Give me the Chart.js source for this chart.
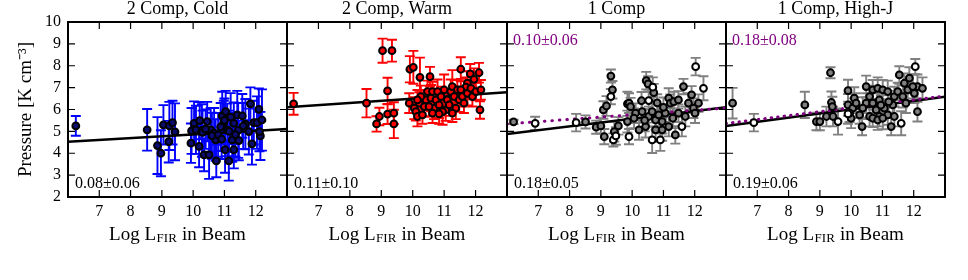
<!DOCTYPE html>
<html>
<head>
<meta charset="utf-8">
<script src="https://cdn.jsdelivr.net/npm/chart.js@4.4.1/dist/chart.umd.min.js"></script>
<style>
  body { margin: 0; background: #fff; }
  #wrap { position: relative; width: 968px; height: 280px; overflow: hidden; }
  #wrap canvas { position: absolute; top: 0; }
</style>
</head>
<body>
<div id="wrap"></div>
<script>
// ---- data ----
const xTicks = [7, 8, 9, 10, 11, 12];
const yTicks = [2, 3, 4, 5, 6, 7, 8, 9, 10];
const titles = ['2 Comp, Cold', '2 Comp, Warm', '1 Comp', '1 Comp, High-J'];
const slopeText = ['0.08\u00b10.06', '0.11\u00b10.10', '0.18\u00b10.05', '0.19\u00b10.06'];
const slopeTextB = [null, null, '0.10\u00b10.06', '0.18\u00b10.08'];

// 2 Comp, Cold
const coldX = [6.25, 8.53, 8.86, 8.97, 9.05, 9.22, 9.24, 9.34, 9.42, 9.95, 9.93, 10.03, 10.09, 10.21, 10.19, 10.28, 10.35, 10.45, 10.51,
  10.56, 10.67, 10.72, 10.74, 10.80, 10.93, 10.91, 10.98, 11.04, 11.02, 11.09, 11.14, 11.20, 11.25, 11.30, 11.30, 11.41, 11.44, 11.46, 11.57,
  11.67, 11.78, 11.83, 11.88, 11.94, 12.04, 12.10, 12.15, 12.20, 12.12, 10.30, 10.60, 10.88, 11.15, 11.35, 11.60, 10.40, 11.00];
const coldY = [5.25, 5.07, 4.35, 4.00, 5.30, 4.53, 5.25, 5.40, 4.98, 5.02, 4.46, 5.37, 5.07, 5.49, 4.31, 5.04, 3.93, 5.45, 3.93,
  5.07, 4.92, 4.61, 3.65, 4.84, 5.71, 4.64, 5.40, 5.90, 4.16, 5.07, 3.65, 5.65, 4.61, 5.37, 4.16, 5.75, 5.04, 4.58, 5.71,
  5.33, 4.99, 6.26, 4.43, 5.40, 5.40, 6.01, 4.79, 5.52, 4.99, 4.95, 4.80, 5.20, 5.00, 4.85, 5.25, 5.10, 5.50];
const coldErr = [0.45, 0.95, 1.30, 1.05, 0.90, 0.95, 1.10, 1.00, 1.30, 1.05, 0.90, 1.00, 1.10, 0.85, 0.95, 1.20, 0.75, 0.90, 1.10,
  1.00, 1.15, 0.95, 0.75, 1.00, 1.10, 0.90, 1.00, 0.95, 1.05, 1.20, 0.90, 1.10, 1.00, 0.95, 0.85, 1.10, 1.25, 0.90, 1.00,
  1.15, 1.05, 0.75, 0.95, 1.00, 1.20, 0.95, 1.10, 1.40, 0.90, 1.00, 1.05, 1.10, 0.95, 1.00, 1.05, 0.90, 1.00];

// 2 Comp, Warm
const warmX = [6.21, 8.53, 8.85, 8.94, 9.04, 9.20, 9.20, 9.34, 9.40, 9.40, 9.91, 10.02, 10.23, 10.55, 11.53, 11.83, 11.95, 12.11, 11.74, 11.69,
  12.14, 9.89, 10.05, 10.10, 10.15, 10.31, 10.21, 10.37, 10.42, 10.47, 10.58, 10.63, 10.68, 10.74, 10.79, 10.84, 10.90, 11.00, 11.05, 11.10,
  11.16, 11.21, 11.26, 11.32, 11.37, 11.42, 11.48, 11.53, 11.58, 11.63, 11.74, 11.85, 11.90, 12.01, 12.17, 10.26, 10.52, 10.95, 10.63, 10.15,
  11.26, 10.84];
const warmY = [6.26, 6.29, 5.34, 5.68, 8.69, 5.79, 6.85, 8.69, 5.83, 5.34, 7.84, 7.93, 7.47, 7.50, 7.84, 7.63, 7.38, 7.68, 7.20, 7.02,
  5.98, 6.29, 6.06, 5.90, 5.68, 5.75, 6.29, 6.13, 6.44, 6.82, 6.52, 6.82, 6.06, 6.44, 6.82, 6.21, 6.59, 6.90, 5.98, 6.44,
  6.21, 6.82, 7.05, 6.59, 6.06, 6.90, 6.44, 6.90, 6.59, 6.29, 6.74, 6.97, 6.59, 6.82, 6.90, 6.59, 6.13, 5.90, 5.83, 6.44,
  5.83, 5.80];
const warmErr = [0.50, 0.65, 0.35, 0.40, 0.55, 0.45, 0.60, 0.50, 0.50, 0.65, 0.60, 0.75, 0.90, 0.45, 0.55, 0.45, 0.50, 0.45, 0.55, 0.45,
  0.40, 0.45, 0.50, 0.40, 0.45, 0.40, 0.50, 0.45, 0.45, 0.50, 0.60, 0.45, 0.50, 0.45, 0.55, 0.60, 0.45, 0.70, 0.50, 0.45,
  0.50, 0.55, 0.75, 0.45, 0.50, 0.45, 0.55, 0.50, 0.45, 0.45, 0.55, 0.50, 0.45, 0.40, 0.45, 0.50, 0.45, 0.60, 0.45, 0.45,
  0.40, 0.45];

// 1 Comp (grey filled and open markers)
const oneX = [6.21, 8.51, 8.85, 9.00, 9.08, 9.18, 9.11, 9.32, 9.37, 9.43, 9.56, 9.85, 9.85, 10.45, 10.51, 10.69, 9.90, 9.95, 10.11, 10.32,
  10.22, 10.43, 10.75, 10.85, 10.96, 11.17, 11.22, 11.33, 11.48, 11.64, 11.38, 11.80, 11.90, 11.96, 12.12, 12.01, 11.06, 10.53, 10.64, 10.06,
  11.48, 11.70, 10.96, 10.75, 11.17, 10.30, 11.00, 10.80, 11.30, 10.40];
const oneY = [5.43, 5.43, 5.19, 5.25, 5.98, 6.16, 4.76, 7.53, 6.90, 4.99, 5.25, 6.26, 5.45, 7.32, 7.17, 6.77, 6.29, 6.13, 5.83, 5.90,
  5.07, 5.22, 5.52, 5.75, 5.45, 6.52, 6.29, 6.36, 6.44, 7.05, 4.84, 6.29, 6.67, 6.06, 6.29, 5.83, 5.83, 5.68, 5.90, 5.60,
  5.83, 5.68, 5.07, 5.07, 5.22, 6.40, 6.10, 6.30, 5.60, 5.50];
const oneErr = [0.10, 0.30, 0.30, 0.35, 0.40, 0.45, 0.35, 0.30, 0.40, 0.45, 0.40, 0.55, 0.50, 0.40, 0.35, 0.40, 0.45, 0.40, 0.45, 0.50,
  0.45, 0.50, 0.45, 0.50, 0.55, 0.45, 0.40, 0.45, 0.40, 0.35, 0.40, 0.45, 0.40, 0.45, 0.40, 0.45, 0.40, 0.45, 0.50, 0.45,
  0.40, 0.45, 0.50, 0.55, 0.45, 0.40, 0.45, 0.40, 0.45, 0.50];
const oneOpenX = [6.90, 8.21, 9.32, 9.40, 9.48, 9.90, 10.66, 10.53, 10.64, 10.90, 11.59, 12.03, 12.28];
const oneOpenY = [5.37, 5.40, 6.59, 4.61, 4.79, 4.76, 7.02, 6.41, 4.61, 4.61, 5.22, 7.96, 6.97];
const oneOpenErr = [0.30, 0.40, 0.35, 0.30, 0.40, 0.35, 0.45, 0.40, 0.60, 0.50, 0.45, 0.40, 0.55];

// 1 Comp, High-J
const hjX = [6.21, 8.52, 8.89, 9.00, 9.21, 9.34, 9.37, 9.40, 9.42, 9.90, 9.90, 10.00, 10.10, 10.35, 11.54, 11.70, 11.86, 12.12, 12.28, 12.12,
  11.28, 10.69, 10.85, 11.01, 11.17, 10.90, 10.59, 10.48, 10.37, 10.05, 9.95, 10.69, 10.80, 10.90, 11.06, 11.17, 11.33, 11.38, 11.49, 11.65,
  11.75, 11.81, 11.97, 12.02, 10.59, 10.69, 10.85, 11.01, 11.38, 10.27, 10.16, 10.48, 10.95, 11.20];
const hjY = [6.29, 6.21, 5.45, 5.45, 5.68, 7.68, 6.32, 6.13, 5.68, 6.86, 6.21, 5.60, 6.52, 5.22, 7.58, 7.20, 7.43, 7.05, 6.97, 5.90,
  5.22, 6.90, 6.97, 6.90, 6.82, 6.44, 6.59, 6.29, 6.06, 6.06, 5.83, 6.29, 5.98, 5.68, 6.06, 5.75, 6.21, 6.59, 6.82, 6.59,
  6.29, 6.90, 7.05, 6.74, 5.68, 5.60, 5.52, 5.60, 5.68, 5.75, 6.29, 7.05, 6.20, 6.35];
const hjErr = [0.70, 0.60, 0.40, 0.40, 0.45, 0.25, 0.50, 0.45, 0.45, 0.50, 0.50, 0.45, 0.50, 0.40, 0.40, 0.45, 0.50, 0.55, 0.50, 0.45,
  0.40, 0.45, 0.50, 0.45, 0.50, 0.45, 0.50, 0.45, 0.50, 0.45, 0.40, 0.45, 0.50, 0.45, 0.40, 0.45, 0.50, 0.45, 0.40, 0.50,
  0.45, 0.50, 0.55, 0.45, 0.45, 0.40, 0.45, 0.50, 0.45, 0.40, 0.45, 0.50, 0.45, 0.50];
const hjOpenX = [6.89, 9.58, 9.90, 12.05, 11.60];
const hjOpenY = [5.40, 5.45, 5.80, 7.96, 5.37];
const hjOpenErr = [0.40, 0.60, 0.45, 0.35, 0.55];

// fit lines (end points at x = 6 and 13)
const fitX = [6, 13];
const coldFit = [4.53, 5.11];
const warmFit = [6.10, 6.79];
const oneFit = [4.88, 6.10];
const oneFitB = [5.34, 6.07];
const hjFit = [5.25, 6.58];
const hjFitB = [5.36, 6.62];

// ---- drawing ----
const NUM_FONT = '"Liberation Serif", "Times New Roman", serif';
const PURPLE = '#800080';
const edges = [68, 287, 507, 726, 945];

const pts = (xs, ys) => xs.map((v, k) => ({ x: v, y: ys[k] }));

function markers(xs, ys, errs, fill, bar) {
  return {
    data: pts(xs, ys), yErr: errs, errColor: bar,
    backgroundColor: fill, borderColor: '#000',
    pointRadius: 3.4, pointBorderWidth: 2, pointHoverRadius: 3.4
  };
}
function fit(ys, color, dash) {
  return {
    data: pts(fitX, ys), showLine: true, pointRadius: 0, pointHoverRadius: 0,
    borderColor: color, borderWidth: dash ? 3 : 2.5, borderDash: dash || [],
    borderCapStyle: dash ? 'round' : 'butt'
  };
}

const panelSets = [
  [markers(coldX, coldY, coldErr, '#0c0c70', '#0000ff'), fit(coldFit, '#000')],
  [markers(warmX, warmY, warmErr, '#ff0000', '#ff0000'), fit(warmFit, '#000')],
  [markers(oneOpenX, oneOpenY, oneOpenErr, '#ffffff', '#808080'),
   markers(oneX, oneY, oneErr, '#808080', '#808080'),
   fit(oneFitB, PURPLE, [0.5, 7]), fit(oneFit, '#000')],
  [markers(hjOpenX, hjOpenY, hjOpenErr, '#ffffff', '#808080'),
   markers(hjX, hjY, hjErr, '#808080', '#808080'),
   fit(hjFitB, PURPLE, [0.5, 6]), fit(hjFit, '#000')]
];

const deco = {
  id: 'deco',
  beforeDatasetsDraw(chart) {
    const { ctx, chartArea: a, scales: { x, y } } = chart;
    ctx.save();
    ctx.beginPath();
    ctx.rect(a.left, a.top, a.right - a.left, a.bottom - a.top);
    ctx.clip();
    ctx.lineWidth = 1.9;
    // error bars, drawn in reverse so the first dataset ends up on top
    chart.data.datasets.slice().reverse().forEach(ds => {
      if (!ds.yErr) return;
      ctx.strokeStyle = ds.errColor;
      ds.data.forEach((p, k) => {
        const px = x.getPixelForValue(p.x);
        const t = y.getPixelForValue(p.y + ds.yErr[k]);
        const b = y.getPixelForValue(p.y - ds.yErr[k]);
        ctx.beginPath();
        ctx.moveTo(px, t); ctx.lineTo(px, b);
        ctx.moveTo(px - 5, t); ctx.lineTo(px + 5, t);
        ctx.moveTo(px - 5, b); ctx.lineTo(px + 5, b);
        ctx.stroke();
      });
    });
    ctx.restore();
  },
  afterDraw(chart, args, opts) {
    const { ctx, chartArea: a, scales: { x, y } } = chart;
    ctx.save();
    ctx.strokeStyle = '#000';
    ctx.lineWidth = 1.2;
    ctx.beginPath();
    xTicks.forEach(v => {
      const px = x.getPixelForValue(v);
      ctx.moveTo(px, a.bottom); ctx.lineTo(px, a.bottom - 7);
      ctx.moveTo(px, a.top); ctx.lineTo(px, a.top + 7);
    });
    yTicks.slice(1, -1).forEach(v => {
      const py = y.getPixelForValue(v);
      ctx.moveTo(a.left, py); ctx.lineTo(a.left + 7, py);
      ctx.moveTo(a.right, py); ctx.lineTo(a.right - 7, py);
    });
    ctx.stroke();
    ctx.lineWidth = 2;
    ctx.strokeRect(a.left, a.top, a.right - a.left, a.bottom - a.top);

    const cx = (a.left + a.right) / 2;
    ctx.fillStyle = '#000';
    ctx.textBaseline = 'alphabetic';
    // panel title
    ctx.textAlign = 'center';
    ctx.font = '18px ' + NUM_FONT;
    ctx.fillText(opts.title, cx, 14);
    // x axis title: Log L_FIR in Beam
    const big = '19px ' + NUM_FONT, small = '13px ' + NUM_FONT;
    ctx.font = big; const w1 = ctx.measureText('Log L').width, w3 = ctx.measureText(' in Beam').width;
    ctx.font = small; const w2 = ctx.measureText('FIR').width + 1;
    let sx = cx - (w1 + w2 + w3) / 2;
    ctx.textAlign = 'left';
    ctx.font = big; ctx.fillText('Log L', sx, 240);
    ctx.font = small; ctx.fillText('FIR', sx + w1 + 0.5, 242);
    ctx.font = big; ctx.fillText(' in Beam', sx + w1 + w2, 240);
    // slopes
    ctx.font = '16px ' + NUM_FONT;
    ctx.fillText(opts.slope, a.left + 7, 188);
    if (opts.slopeB) {
      ctx.fillStyle = PURPLE;
      ctx.fillText(opts.slopeB, a.left + 6, 45);
    }
    ctx.restore();
  }
};

const wrap = document.getElementById('wrap');
panelSets.forEach((sets, i) => {
  const first = i === 0;
  const padL = first ? 0 : 12, padR = 12;
  const yW = first ? edges[0] : 0;
  const left = first ? 0 : edges[i] - padL;
  const width = (edges[i + 1] - edges[i]) + (first ? yW : padL) + padR;
  const cv = document.createElement('canvas');
  cv.width = width; cv.height = 280;
  cv.style.left = left + 'px';
  wrap.appendChild(cv);

  new Chart(cv, {
    type: 'scatter',
    data: { datasets: sets },
    options: {
      responsive: false,
      animation: false,
      events: [],
      layout: { padding: { top: 22, bottom: 0, left: padL, right: padR } },
      plugins: {
        legend: { display: false },
        tooltip: { enabled: false },
        deco: { title: titles[i], slope: slopeText[i], slopeB: slopeTextB[i] }
      },
      scales: {
        x: {
          type: 'linear', min: 6, max: 13,
          grid: { display: false, drawTicks: false },
          border: { display: false },
          ticks: {
            stepSize: 1, autoSkip: false, maxRotation: 0, padding: 5, color: '#000',
            font: { family: NUM_FONT, size: 16 },
            callback: v => xTicks.includes(v) ? String(v) : ''
          },
          afterFit: s => { s.height = 83; }
        },
        y: {
          type: 'linear', min: 2, max: 10, display: first,
          grid: { display: false, drawTicks: false },
          border: { display: false },
          ticks: {
            stepSize: 1, autoSkip: false, padding: 7, color: '#000',
            font: { family: NUM_FONT, size: 16 },
            callback: v => yTicks.includes(v) ? String(v) : ''
          },
          title: {
            display: true, text: 'Pressure [K cm\u207b\u00b3]', color: '#000',
            font: { family: NUM_FONT, size: 19 }, padding: { top: 15, bottom: 0 }
          },
          afterFit: s => { s.width = yW; }
        }
      }
    },
    plugins: [deco]
  });
});
</script>
</body>
</html>
